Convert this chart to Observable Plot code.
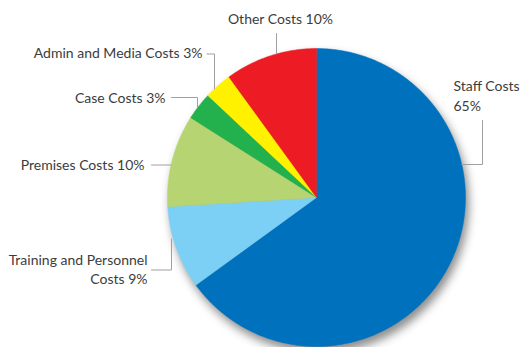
<!DOCTYPE html>
<html>
<head>
<meta charset="utf-8">
<script src="https://cdn.jsdelivr.net/npm/d3@7"></script>
<script src="https://cdn.jsdelivr.net/npm/@observablehq/plot@0.6"></script>
<style>
  html, body { margin: 0; padding: 0; background: #fff; }
  #chart svg { display: block; }
</style>
</head>
<body>
<div id="chart"></div>
<script>
// ---- data ----
const categories = ["Staff Costs", "Training and Personnel Costs", "Premises Costs", "Case Costs", "Admin and Media Costs", "Other Costs"];
const shares = [65, 9, 10, 3, 3, 10];
const colors = ["#0071bc", "#7dd0f5", "#b6d572", "#22b14c", "#fff100", "#ed1c24"];

// ---- layout (pie units: centre 0,0, radius 1; y up) ----
const R = 149, CX = 316, CY = 197, W = 521, H = 347;
const u = px => (px - CX) / R;
const v = py => (CY - py) / R;
const onCircleX = (vy, side) => side * Math.sqrt(1 - vy * vy);
const onCircleY = (ux) => Math.sqrt(1 - ux * ux);
// label anchor (baseline of last line), text anchor, line break after word index
const labelLayout = [
  {x: u(453), y: v(110), anchor: "start", breakAfter: 2},
  {x: u(147), y: v(283.5), anchor: "end", breakAfter: 3},
  {x: u(144), y: v(169.5), anchor: "end", breakAfter: null},
  {x: u(165), y: v(102), anchor: "end", breakAfter: null},
  {x: u(202), y: v(57.5), anchor: "end", breakAfter: null},
  {x: u(280), y: v(23.5), anchor: "middle", breakAfter: null}
];
const leaderLayout = [
  (() => { const e = v(164); return [[u(482), v(120)], [u(482), e], [onCircleX(e, 1), e]]; })(),
  [[u(151), v(269.5)], [u(171), v(269.5)], [u(171), v(238.5)]],
  (() => { const e = v(164.5); return [[u(151), e], [onCircleX(e, -1), e]]; })(),
  (() => { const x = u(197), y = v(97); return [[u(171), y], [x, y], [x, onCircleY(x)]]; })(),
  (() => { const x = u(214), y = v(53.5); return [[u(206.5), y], [x, y], [x, onCircleY(x)]]; })(),
  (() => { const x = u(276); return [[x, v(33)], [x, onCircleY(x)]]; })()
];

// ---- slices as polygons ----
const total = d3.sum(shares);
const slicePts = [];
let cum = 0;
categories.forEach((c, i) => {
  const a0 = cum / total * 2 * Math.PI;
  cum += shares[i];
  const a1 = cum / total * 2 * Math.PI;
  const n = Math.max(4, Math.ceil((a1 - a0) / (Math.PI / 360)));
  slicePts.push({slice: c, color: colors[i], x: 0, y: 0});
  for (let k = 0; k <= n; k++) {
    const a = a0 + (a1 - a0) * k / n;
    slicePts.push({slice: c, color: colors[i], x: Math.sin(a), y: Math.cos(a)});
  }
  slicePts.push({slice: c, color: colors[i], x: 0, y: 0});
});

const labels = categories.map((c, i) => {
  const words = `${c} ${shares[i]}%`.split(" ");
  const b = labelLayout[i].breakAfter;
  const text = b == null ? words.join(" ") : words.slice(0, b).join(" ") + "\n" + words.slice(b).join(" ");
  return {...labelLayout[i], text};
});
const leaders = leaderLayout.flatMap((pts, i) => pts.map(([x, y]) => ({id: i, x, y})));

const textOpts = anchor => ({
  x: "x", y: "y", text: "text", filter: d => d.anchor === anchor, textAnchor: anchor,
  lineAnchor: "bottom", fontSize: 14, lineHeight: 1.38, fill: "#3c3c3c"
});

const chart = Plot.plot({
  width: W, height: H, margin: 0,
  x: {domain: [u(0), u(W)], axis: null},
  y: {domain: [v(H), v(0)], axis: null},
  color: {type: "identity"},
  style: {fontFamily: "Lato, 'Open Sans', sans-serif", background: "#fff"},
  marks: [
    Plot.line(slicePts, {x: "x", y: "y", z: "slice", fill: "color", stroke: "color", strokeWidth: 0.5, curve: "linear"}),
    Plot.line(leaders, {x: "x", y: "y", z: "id", stroke: "#a0a0a0", strokeWidth: 1}),
    Plot.text(labels, textOpts("start")),
    Plot.text(labels, textOpts("end")),
    Plot.text(labels, textOpts("middle"))
  ]
});
const pieG = chart.querySelector('g[aria-label="line"]');
if (pieG) pieG.style.filter = "drop-shadow(3px 6px 5px rgba(0,0,0,0.45))";
document.getElementById("chart").appendChild(chart);
</script>
</body>
</html>
